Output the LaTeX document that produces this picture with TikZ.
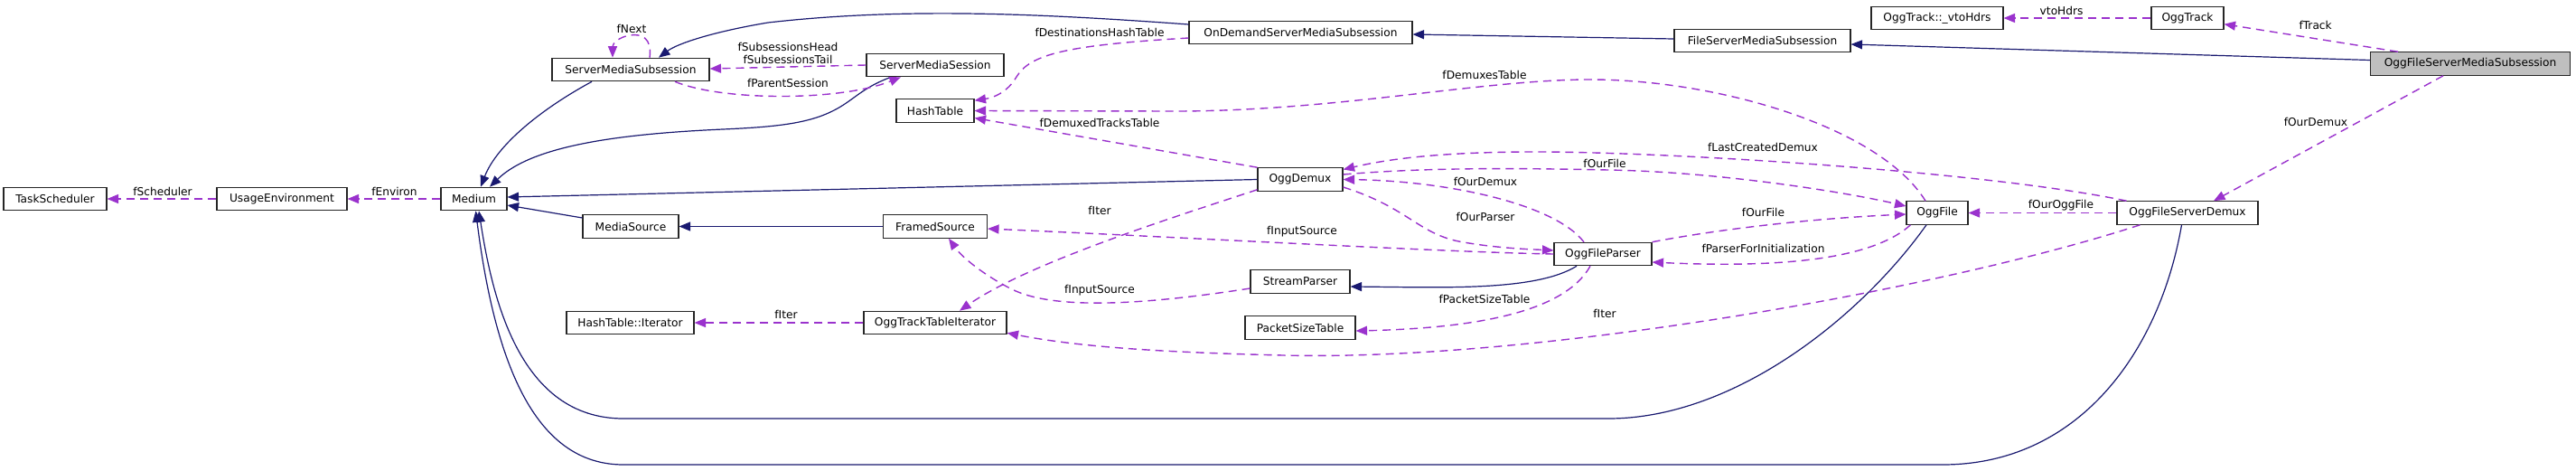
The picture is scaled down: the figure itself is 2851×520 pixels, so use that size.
\documentclass[tikz,border=0pt]{standalone}
\usepackage{fontspec}
\setmainfont{DejaVu Sans}
\usetikzlibrary{arrows.meta}
\definecolor{inhblue}{HTML}{191970}
\definecolor{usepurple}{HTML}{9A32CD}

\begin{document}
\begin{tikzpicture}[x=1pt,y=-1pt,
  cls/.style={draw=black!85,line width=1.1pt,fill=white,minimum height=25.5pt,inner sep=0pt,font=\fontsize{12.2}{14.6}\selectfont},
  inh/.style={draw=inhblue,line width=1.2pt,-{Triangle[length=12.5pt,width=10pt]}},
  uses/.style={draw=usepurple,line width=1.4pt,dash pattern=on 9pt off 6pt,-{Triangle[length=12.5pt,width=10pt]}},
  lbl/.style={font=\fontsize{12.2}{14.6}\selectfont,inner sep=0pt,align=center}]
\path[use as bounding box,fill=white] (0,0) rectangle (2851,520);
% classes
\node[cls,minimum width=114pt] (tsched) at (61,220) {TaskScheduler};
\node[cls,minimum width=144pt] (usenv) at (312,220) {UsageEnvironment};
\node[cls,minimum width=73pt] (medium) at (524.5,220) {Medium};
\node[cls,minimum width=174pt] (smsub) at (698,77) {ServerMediaSubsession};
\node[cls,minimum width=106pt] (mediasrc) at (698,250.5) {MediaSource};
\node[cls,minimum width=141pt] (htiter) at (697.5,357) {HashTable::Iterator};
\node[cls,minimum width=152pt] (sms) at (1035,72) {ServerMediaSession};
\node[cls,minimum width=86pt] (htable) at (1035,122.5) {HashTable};
\node[cls,minimum width=115pt] (framed) at (1035,250.5) {FramedSource};
\node[cls,minimum width=158pt] (ottiter) at (1035,357) {OggTrackTableIterator};
\node[cls,minimum width=247pt] (odsms) at (1439.5,36) {OnDemandServerMediaSubsession};
\node[cls,minimum width=94pt] (oggdemux) at (1439,198.5) {OggDemux};
\node[cls,minimum width=110pt] (strparser) at (1439,311.5) {StreamParser};
\node[cls,minimum width=122pt] (pstable) at (1439,362.5) {PacketSizeTable};
\node[cls,minimum width=108pt] (oggparser) at (1774,281) {OggFileParser};
\node[cls,minimum width=195pt] (fsms) at (1950.5,45) {FileServerMediaSubsession};
\node[cls,minimum width=146pt] (vtohdrs) at (2144,20) {OggTrack::\_vtoHdrs};
\node[cls,minimum width=80pt] (oggtrack) at (2421,20) {OggTrack};
\node[cls,minimum width=221pt,fill=black!25] (ofsms) at (2734,70.5) {OggFileServerMediaSubsession};
\node[cls,minimum width=68pt] (oggfile) at (2144,235.5) {OggFile};
\node[cls,minimum width=156pt] (ofsdemux) at (2421,235.5) {OggFileServerDemux};
% inheritance (arrow at the base class)
\draw[inh] ([yshift=9pt]odsms.west) .. controls (1150,15) and (1000,8) .. (850,25) .. controls (790,35) and (750,48) .. ([xshift=31pt]smsub.north);
\draw[inh] ([yshift=2pt]fsms.west) -- ([yshift=-2pt]odsms.east);
\draw[inh] ([yshift=4pt]ofsms.west) -- ([yshift=-4pt]fsms.east);
\draw[inh] ([xshift=-43pt]smsub.south) .. controls (600,120) and (550,160) .. ([xshift=7.5pt]medium.north);
\draw[inh] ([xshift=-49pt]sms.south) .. controls (960,95) and (950,105) .. (935,115) .. controls (905,135) and (870,140) .. (800,143) .. controls (690,148) and (590,160) .. ([xshift=17.5pt]medium.north);
\draw[inh] (oggdemux.west) -- ([yshift=2pt]medium.east);
\draw[inh] ([yshift=9.5pt]mediasrc.west) -- ([yshift=-7pt]medium.east);
\draw[inh] (framed.west) -- (mediasrc.east);
\draw[inh] ([xshift=-29pt]oggparser.south) .. controls (1700,322) and (1600,318) .. ([yshift=-5.5pt]strparser.east);
\draw[inh] ([xshift=-12pt]oggfile.south) .. controls (2060,350) and (1920,463) .. (1780,463) -- (690,463) .. controls (575,463) and (545,330) .. ([xshift=5.5pt]medium.south);
\draw[inh] ([xshift=-6.5pt]ofsdemux.south) .. controls (2390,390) and (2300,514) .. (2150,514) -- (690,514) .. controls (600,514) and (550,420) .. ([xshift=2pt]medium.south);
% usage (arrow at the member's class)
\draw[uses] (usenv.west) -- (tsched.east) node[lbl] (lsched) at (180,212) {fScheduler};
\draw[uses] (medium.west) -- (usenv.east) node[lbl] (lenv) at (436.5,212) {fEnviron};
\draw[uses] ([xshift=21pt]smsub.north) .. controls (722,42) and (710,37) .. (697,39) .. controls (685,41) and (678,48) .. ([xshift=-20pt]smsub.north) node[lbl] (lnext) at (699,32) {fNext};
\draw[uses] (sms.west) -- ([yshift=1pt]smsub.east) node[lbl] (lsubs) at (872,59) {fSubsessionsHead\\fSubsessionsTail};
\draw[uses] ([xshift=49pt]smsub.south) .. controls (800,112) and (930,112) .. ([xshift=-38pt]sms.south) node[lbl] (lparent) at (872,92.3) {fParentSession};
\draw[uses] ([yshift=-6pt]odsms.west) .. controls (1180,50) and (1140,60) .. (1125,85) .. controls (1115,102) and (1100,108) .. ([yshift=-2pt]htable.north east) node[lbl] (ldest) at (1217,36) {fDestinationsHashTable};
\draw[uses] ([xshift=-13pt]oggfile.north) .. controls (2080,140) and (1900,88) .. (1760,88) .. controls (1640,88) and (1480,123) .. (1300,123) -- (htable.east) node[lbl] (ldemuxes) at (1643,83) {fDemuxesTable};
\draw[uses] (oggdemux.north west) -- ([yshift=-8pt]htable.east) node[lbl] (ltracks) at (1217,135.7) {fDemuxedTracksTable};
\draw[uses] (ottiter.west) -- (htiter.east) node[lbl] (literA) at (870,348) {fIter};
\draw[uses] ([yshift=2pt]oggdemux.south west) .. controls (1300,240) and (1140,290) .. ([xshift=27pt]ottiter.north) node[lbl] (literB) at (1217,232.7) {fIter};
\draw[uses] (oggparser.west) .. controls (1600,279) and (1300,262) .. ([yshift=-2.5pt]framed.east) node[lbl] (linputA) at (1441,256) {fInputSource};
\draw[uses] ([yshift=-7.5pt]strparser.west) .. controls (1280,335) and (1170,345) .. (1120,320) .. controls (1090,305) and (1065,285) .. ([xshift=15pt]framed.south) node[lbl] (linputB) at (1217,320.7) {fInputSource};
\draw[uses] ([xshift=11pt]ofsdemux.north west) .. controls (2200,190) and (1850,168) .. (1700,168) .. controls (1600,168) and (1540,175) .. ([yshift=11pt]oggdemux.east) node[lbl] (llast) at (1951,162.7) {fLastCreatedDemux};
\draw[uses] ([yshift=5.5pt]oggdemux.east) .. controls (1580,185) and (1680,186) .. (1780,188) .. controls (1900,190) and (2040,212) .. ([yshift=7.5pt]oggfile.west) node[lbl] (lfileA) at (1776,180.7) {fOurFile};
\draw[uses] (oggparser.north east) .. controls (1900,254) and (2000,242) .. ([yshift=-1.5pt]oggfile.west) node[lbl] (lfileB) at (1951.5,235) {fOurFile};
\draw[uses] ([xshift=-21pt]oggparser.north) .. controls (1720,225) and (1600,200) .. (oggdemux.east) node[lbl] (ldemuxA) at (1644,201) {fOurDemux};
\draw[uses] ([yshift=-8.5pt]oggdemux.east) .. controls (1560,230) and (1570,260) .. (1620,268) .. controls (1660,275) and (1700,276) .. ([yshift=4pt]oggparser.west) node[lbl] (lparser) at (1644,240) {fOurParser};
\draw[uses] ([xshift=5pt]oggfile.south west) .. controls (2080,280) and (2000,298) .. ([yshift=-9pt]oggparser.east) node[lbl] (linit) at (1951.5,275) {fParserForInitialization};
\draw[uses] ([xshift=-14pt]oggparser.south) .. controls (1740,330) and (1680,362) .. ([yshift=-3.5pt]pstable.east) node[lbl] (lpsize) at (1643,330.7) {fPacketSizeTable};
\draw[uses] ([xshift=26pt]ofsdemux.south west) .. controls (2150,320) and (1700,400) .. (1420,393) .. controls (1300,390) and (1200,385) .. ([yshift=2pt]ottiter.south east) node[lbl] (literC) at (1776,346.7) {fIter};
\draw[uses] (ofsdemux.west) -- (oggfile.east) node[lbl] (loggfile) at (2281,226.7) {fOurOggFile};
\draw[uses] (oggtrack.west) -- (vtohdrs.east) node[lbl] (lvto) at (2281.6,11.7) {vtoHdrs};
\draw[uses] ([xshift=31pt]ofsms.north west) -- ([yshift=-6.7pt]oggtrack.east) node[lbl] (ltrack) at (2562.6,28.3) {fTrack};
\draw[uses] ([xshift=-30pt]ofsms.south) -- ([xshift=29pt]ofsdemux.north) node[lbl] (ldemuxB) at (2563,135) {fOurDemux};
\end{tikzpicture}
\end{document}
